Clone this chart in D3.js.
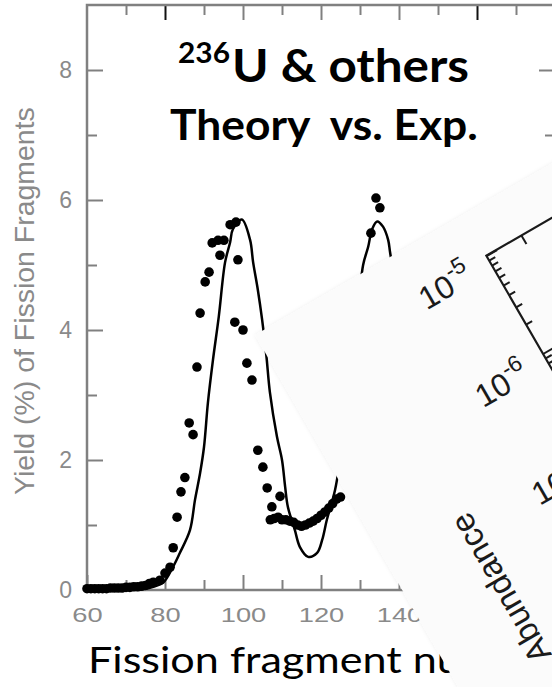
<!DOCTYPE html>
<html>
<head>
<meta charset="utf-8">
<script src="https://cdn.jsdelivr.net/npm/d3@7"></script>
<style>
body { margin: 0; background: #fff; }
</style>
</head>
<body>
<div id="chart_area"></div>
<script>
// mass number vs yield (%) -- theory curve
var theoryMass  = [60, 70, 75, 77, 79.5, 82, 83.8, 86.4, 87.7, 89, 90, 91, 92.3, 93.8, 95.4, 96.7, 97.4, 99.7,
                   101.8, 102.6, 103.8, 104.9, 106, 106.9, 108.7, 110, 110.8, 111.5, 113.3, 114.6, 116.7, 119,
                   120.3, 121.5, 123.6, 124.9, 127, 129, 130.8, 132.1, 133.1, 134.4, 135.9, 137.2, 137.7,
                   139, 141, 143, 145, 148, 151, 154, 158, 165];
var theoryYield = [0, 0, 0.02, 0.05, 0.11, 0.35, 0.57, 0.92, 1.39, 1.8, 2.2, 2.88, 3.54, 4.21, 5.04, 5.35, 5.55, 5.7,
                   5.39, 5.04, 4.62, 4.16, 3.6, 3.04, 2.36, 2.0, 1.59, 1.28, 0.92, 0.66, 0.51, 0.57,
                   0.77, 1.08, 1.54, 2.0, 2.9, 4.0, 5.0, 5.28, 5.55, 5.67, 5.59, 5.39, 5.2,
                   4.7, 3.8, 2.8, 1.9, 0.9, 0.35, 0.1, 0.02, 0];

// experimental points
var expMass  = [60, 61, 62, 63, 64, 65, 66, 67, 68, 69, 70, 71, 72, 73, 74, 75, 76, 77, 78.7, 80, 81.3,
                82.1, 83.1, 84.1, 85.1, 86.2, 87.2, 88.2, 89, 90.3, 91.3, 92.1, 93.6, 95.1, 94.1, 96.7, 98.2,
                98.7, 97.9, 100, 101, 102.3, 103.8, 105.1, 106.2, 107.4,
                107, 108, 109, 109.5, 110, 111, 112, 113, 114, 115, 116, 117, 118, 119, 120, 121, 122, 123, 124, 125,
                132.8, 134.1, 135.1, 138, 140, 142, 144, 146, 148];
var expYield = [0.02, 0.02, 0.02, 0.02, 0.02, 0.02, 0.03, 0.03, 0.03, 0.03, 0.04, 0.04, 0.05, 0.05, 0.06, 0.07, 0.1, 0.12, 0.15, 0.26, 0.35,
                0.65, 1.12, 1.51, 1.73, 2.57, 2.39, 3.43, 4.26, 4.74, 4.89, 5.34, 5.38, 5.38, 5.15, 5.62, 5.66,
                5.08, 4.12, 4.0, 3.49, 3.23, 2.15, 1.89, 1.57, 1.28,
                1.08, 1.1, 1.12, 1.44, 1.08, 1.08, 1.06, 1.04, 1.0, 0.98, 1.0, 1.03, 1.06, 1.1, 1.15, 1.2, 1.26, 1.33, 1.4, 1.43,
                5.49, 6.03, 5.88, 4.6, 3.9, 3.0, 2.2, 1.5, 0.9];

var xTickLabels = [60, 80, 100, 120, 140];
var xMinorTicks = [70, 90, 110, 130, 150, 170];
var xMajorTicks = [80, 100, 120, 140, 160];
var yTickLabels = [0, 2, 4, 6, 8];
var yMinorTicks = [1, 3, 5, 7];

// overlaid rotated inset (abundance, log scale)
var abundanceTicks = [1e-5, 1e-6, 1e-7, 1e-8];
var insetTopTicks = [20, 40, 60, 80];

var frame_width = 552;
var frame_height = 687;

var svg = d3.select("#chart_area").append("svg")
    .attr("width", frame_width)
    .attr("height", frame_height);

var xScale = d3.scaleLinear().domain([60, 180]).range([87, 555]);
var yScale = d3.scaleLinear().domain([0, 9]).range([590, 5]);

var gray = "#808080";

function styleAxis(g) {
    g.select(".domain").remove();
    g.selectAll(".tick line").attr("stroke", gray).attr("stroke-width", 2);
}

// bottom axis (labels + long ticks)
var xAxisMajor = svg.append("g")
    .attr("transform", "translate(0,590)")
    .call(d3.axisBottom(xScale).tickValues(xTickLabels.concat([160])).tickSizeInner(-15).tickSizeOuter(0).tickPadding(17))
    .call(styleAxis);
xAxisMajor.selectAll(".tick text")
    .text(function(d) { return xTickLabels.indexOf(d) >= 0 ? d : ""; })
    .attr("fill", "#8a8a8a")
    .attr("font-family", "Liberation Sans, Arial, sans-serif")
    .attr("font-size", 21)
    .attr("transform", "scale(1.3,1)");
svg.append("g")
    .attr("transform", "translate(0,590)")
    .call(d3.axisBottom(xScale).tickValues(xMinorTicks).tickSizeInner(-10).tickSizeOuter(0).tickFormat(""))
    .call(styleAxis);

// top axis
var topMajor = svg.append("g")
    .attr("transform", "translate(0,5)")
    .call(d3.axisTop(xScale).tickValues(xMajorTicks).tickSizeInner(-15).tickSizeOuter(0).tickFormat(""))
    .call(styleAxis);
topMajor.selectAll(".tick line")
    .attr("stroke", function(d) { return d === 80 || d === 160 ? "#111" : gray; });
svg.append("g")
    .attr("transform", "translate(0,5)")
    .call(d3.axisTop(xScale).tickValues(xMinorTicks).tickSizeInner(-10).tickSizeOuter(0).tickFormat(""))
    .call(styleAxis);

// left axis
var yAxisMajor = svg.append("g")
    .attr("transform", "translate(87,0)")
    .call(d3.axisLeft(yScale).tickValues(yTickLabels).tickSizeInner(-16).tickSizeOuter(0).tickPadding(15))
    .call(styleAxis);
yAxisMajor.selectAll(".tick text")
    .attr("fill", "#8a8a8a")
    .attr("font-family", "Liberation Sans, Arial, sans-serif")
    .attr("font-size", 23);
svg.append("g")
    .attr("transform", "translate(87,0)")
    .call(d3.axisLeft(yScale).tickValues(yMinorTicks).tickSizeInner(-10).tickSizeOuter(0).tickFormat(""))
    .call(styleAxis);

// right axis
svg.append("g")
    .attr("transform", "translate(555,0)")
    .call(d3.axisRight(yScale).tickValues(yTickLabels).tickSizeInner(-16).tickSizeOuter(0).tickFormat(""))
    .call(styleAxis);
svg.append("g")
    .attr("transform", "translate(555,0)")
    .call(d3.axisRight(yScale).tickValues(yMinorTicks).tickSizeInner(-10).tickSizeOuter(0).tickFormat(""))
    .call(styleAxis);

// frame
svg.append("rect")
    .attr("x", xScale(60)).attr("y", yScale(9))
    .attr("width", xScale(180) - xScale(60))
    .attr("height", yScale(0) - yScale(9))
    .attr("fill", "none")
    .attr("stroke", gray)
    .attr("stroke-width", 2.5);

// theory curve
var theory = theoryMass.map(function(m, i) { return [m, theoryYield[i]]; });
var line = d3.line()
    .x(function(d) { return xScale(d[0]); })
    .y(function(d) { return yScale(d[1]); })
    .curve(d3.curveCatmullRom.alpha(0.5));
svg.append("path")
    .datum(theory)
    .attr("d", line)
    .attr("fill", "none")
    .attr("stroke", "#000")
    .attr("stroke-width", 2.5);

// experimental dots
var exp = expMass.map(function(m, i) { return {mass: m, yield: expYield[i]}; });
svg.append("g").selectAll("circle")
    .data(exp)
    .enter().append("circle")
    .attr("cx", function(d) { return xScale(d.mass); })
    .attr("cy", function(d) { return yScale(d.yield); })
    .attr("r", 4.8)
    .attr("fill", "#000");

// text helpers: stretch horizontally so that the given chars span a width
function stretch(sel, x, y, width, nChars, angle) {
    var node = sel.node();
    var w = nChars ? node.getSubStringLength(0, nChars) : node.getComputedTextLength();
    sel.attr("transform", "translate(" + x + "," + y + ")" + (angle ? " rotate(" + angle + ")" : "") +
        " scale(" + (width / w) + ",1)");
}

var yLabel = svg.append("text")
    .attr("font-family", "Liberation Sans, Arial, sans-serif")
    .attr("font-size", 27)
    .attr("fill", "#8a8a8a")
    .text("Yield (%) of Fission Fragments");
stretch(yLabel, 34, 495, 388, 0, -90);

var titleFont = "Lato, 'Open Sans', sans-serif";
var sup = svg.append("text")
    .attr("font-family", titleFont).attr("font-weight", "bold")
    .attr("font-size", 29).attr("fill", "#000")
    .text("236");
stretch(sup, 178, 63, 52);
var title1 = svg.append("text")
    .attr("font-family", titleFont).attr("font-weight", "bold")
    .attr("font-size", 45).attr("fill", "#000")
    .text("U & others");
stretch(title1, 232, 82, 237);
var title2 = svg.append("text")
    .attr("font-family", titleFont).attr("font-weight", "bold")
    .attr("font-size", 42).attr("fill", "#000")
    .style("white-space", "pre")
    .text("Theory  vs. Exp.");
stretch(title2, 170, 140, 308);

var xLabel = svg.append("text")
    .attr("font-family", titleFont)
    .attr("font-size", 36).attr("fill", "#000")
    .text("Fission fragment number");
stretch(xLabel, 88, 673, 349, 18);

// ---- overlaid inset panel, rotated ----
var defs = svg.append("defs");
var shadow = defs.append("filter").attr("id", "shade")
    .attr("x", "-10%").attr("y", "-10%").attr("width", "120%").attr("height", "120%");
shadow.append("feDropShadow")
    .attr("dx", 0).attr("dy", 0)
    .attr("stdDeviation", 2)
    .attr("flood-color", "#000")
    .attr("flood-opacity", 0.07);

var inset = svg.append("g")
    .attr("transform", "translate(255,335) rotate(-30)");

inset.append("rect")
    .attr("x", 0).attr("y", 0)
    .attr("width", 900).attr("height", 900)
    .attr("fill", "#fbfbfb")
    .attr("filter", "url(#shade)");

var aScale = d3.scaleLog().domain([1e-5, 1e-8]).range([47, 386]);
var uScale = d3.scaleLinear().domain([0, 300]).range([240, 840]);
var ink = "#1a1a1a";

function styleInset(g) {
    g.select(".domain").remove();
    g.selectAll(".tick line").attr("stroke", ink).attr("stroke-width", 2);
}

var minorVals = [];
abundanceTicks.forEach(function(t) {
    for (var k = 2; k <= 9; k++) minorVals.push(t * k / 10);
});

var aAxis = inset.append("g")
    .attr("transform", "translate(240,0)")
    .call(d3.axisLeft(aScale).tickValues(abundanceTicks).tickSizeInner(-12).tickSizeOuter(0).tickPadding(23))
    .call(styleInset);
aAxis.selectAll(".tick text")
    .attr("font-family", "Liberation Sans, Arial, sans-serif")
    .attr("font-size", 32)
    .attr("fill", ink)
    .attr("dy", null)
    .attr("y", 17)
    .text("")
    .each(function(d) {
        var t = d3.select(this);
        t.append("tspan").text("10");
        t.append("tspan").attr("dy", -15).attr("font-size", 23).text(Math.round(Math.log10(d)));
    });
inset.append("g")
    .attr("transform", "translate(240,0)")
    .call(d3.axisLeft(aScale).tickValues(minorVals).tickSizeInner(-7).tickSizeOuter(0).tickFormat(""))
    .call(styleInset);

inset.append("g")
    .attr("transform", "translate(0,47)")
    .call(d3.axisTop(uScale).tickValues(insetTopTicks).tickSizeInner(-10).tickSizeOuter(0).tickFormat(""))
    .call(styleInset);

inset.append("path")
    .attr("d", d3.line()([[uScale(300), aScale(1e-5)], [uScale(0), aScale(1e-5)], [uScale(0), 900]]))
    .attr("fill", "none")
    .attr("stroke", ink)
    .attr("stroke-width", 2.2);

inset.append("text")
    .attr("transform", "translate(86,342) rotate(-90)")
    .attr("text-anchor", "middle")
    .attr("dominant-baseline", "central")
    .attr("font-family", "Liberation Sans, Arial, sans-serif")
    .attr("font-size", 33)
    .attr("fill", ink)
    .text("Abundance");
</script>
</body>
</html>
